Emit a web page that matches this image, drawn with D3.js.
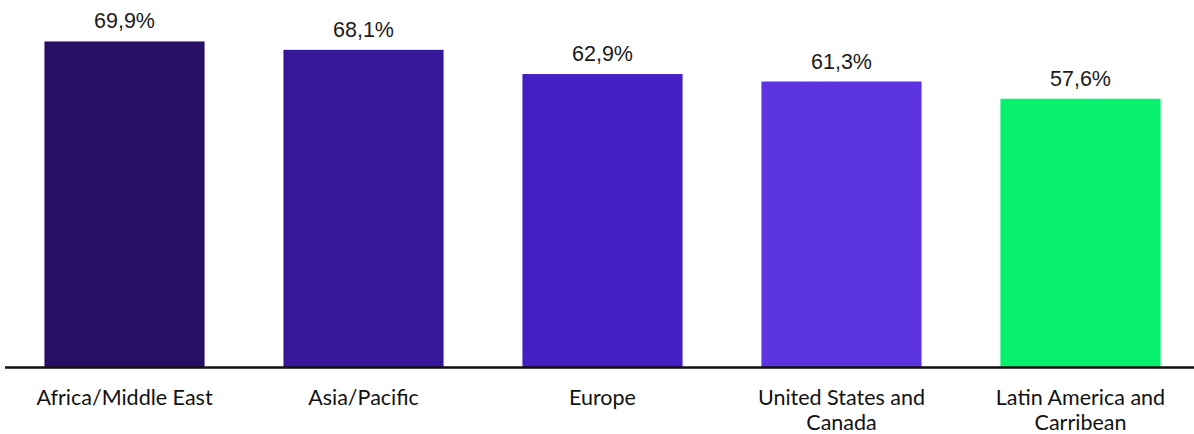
<!DOCTYPE html>
<html>
<head>
<meta charset="utf-8">
<script src="https://cdn.jsdelivr.net/npm/d3@7"></script>
<style>
  html, body { margin: 0; padding: 0; background: #ffffff; }
  svg { display: block; }
</style>
</head>
<body>
<svg id="chart" width="1194" height="434"></svg>
<script>
// Share by region
const categories = [
  ["Africa/Middle East"],
  ["Asia/Pacific"],
  ["Europe"],
  ["United States and", "Canada"],
  ["Latin America and", "Carribean"]
];
const values = [69.9, 68.1, 62.9, 61.3, 57.6];
const valueLabels = ["69,9%", "68,1%", "62,9%", "61,3%", "57,6%"];
const barColors = ["#280f66", "#36179a", "#441fc4", "#5c34e0", "#07f06e"];

const W = 1194, H = 434;
const baseY = 367;

const svg = d3.select("#chart");

const keys = categories.map(c => c.join(" "));

const x = d3.scaleBand()
  .domain(keys)
  .range([5, 1200])
  .paddingInner(0.33)
  .paddingOuter(0.165);

const y = d3.scaleLinear()
  .domain([0, 78.8])
  .range([baseY, 0]);

const data = keys.map((k, i) => ({ key: k, lines: categories[i], value: values[i], label: valueLabels[i], color: barColors[i] }));

// bars
svg.append("g")
  .selectAll("rect")
  .data(data)
  .join("rect")
  .attr("x", d => x(d.key))
  .attr("y", d => y(d.value))
  .attr("width", x.bandwidth())
  .attr("height", d => y(0) - y(d.value))
  .attr("fill", d => d.color);

// value labels
svg.append("g")
  .selectAll("text")
  .data(data)
  .join("text")
  .attr("x", d => x(d.key) + x.bandwidth() / 2)
  .attr("y", d => y(d.value) - 13)
  .attr("text-anchor", "middle")
  .attr("font-family", "'Liberation Sans', Arial, sans-serif")
  .attr("font-size", 21.5)
  .attr("fill", "#1a1a1a")
  .text(d => d.label);

// baseline axis
const axis = d3.axisBottom(x).tickSize(0).tickFormat(() => "");
const axisG = svg.append("g")
  .attr("transform", `translate(0,${baseY})`)
  .call(axis);
axisG.select(".domain")
  .attr("d", `M5,0.5H${W}`)
  .attr("stroke", "#111")
  .attr("stroke-width", 2.5);

// category labels
const catG = svg.append("g")
  .selectAll("text")
  .data(data)
  .join("text")
  .attr("x", d => x(d.key) + x.bandwidth() / 2)
  .attr("y", 405)
  .attr("text-anchor", "middle")
  .attr("font-family", "Lato, 'Open Sans', sans-serif")
  .attr("font-size", 21.5)
  .attr("fill", "#111");
catG.selectAll("tspan")
  .data(d => d.lines.map((t, i) => ({ t, i, cx: x(d.key) + x.bandwidth() / 2 })))
  .join("tspan")
  .attr("x", d => d.cx)
  .attr("dy", d => d.i === 0 ? 0 : 25)
  .text(d => d.t);
</script>
</body>
</html>
